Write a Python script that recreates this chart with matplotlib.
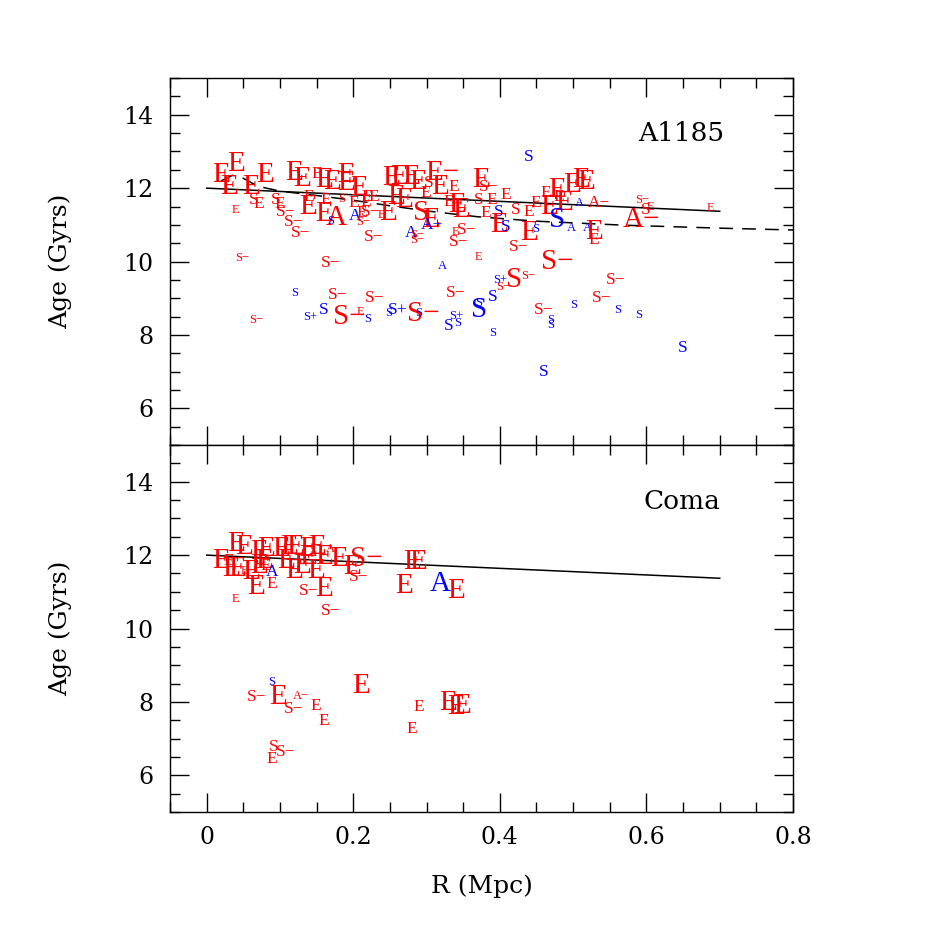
import matplotlib
matplotlib.use("Agg")
import matplotlib.pyplot as plt
from matplotlib.ticker import MultipleLocator

# A1185 panel: radius (Mpc), age (Gyrs), symbol, class (colour + weight)
a_r = [0.019, 0.040, 0.031, 0.060, 0.079, 0.064, 0.071, 0.040, 0.119, 0.130,
       0.094, 0.100, 0.108, 0.119, 0.128, 0.139, 0.150, 0.160, 0.171, 0.190,
       0.190, 0.160, 0.177, 0.169, 0.202, 0.139, 0.162, 0.184, 0.201, 0.217,
       0.251, 0.262, 0.279, 0.289, 0.303, 0.321, 0.319, 0.375, 0.385, 0.337,
       0.208, 0.218, 0.228, 0.259, 0.269, 0.299, 0.330, 0.341, 0.371, 0.389,
       0.408, 0.347, 0.212, 0.224, 0.239, 0.248, 0.292, 0.306, 0.307, 0.214,
       0.228, 0.279, 0.287, 0.287, 0.340, 0.355, 0.344, 0.381, 0.399, 0.399,
       0.408, 0.440, 0.511, 0.517, 0.498, 0.478, 0.463, 0.481, 0.487, 0.467,
       0.478, 0.508, 0.535, 0.498, 0.519, 0.528, 0.528, 0.449, 0.440, 0.422,
       0.449, 0.440, 0.426, 0.594, 0.599, 0.606, 0.593, 0.687, 0.049, 0.169,
       0.321, 0.371, 0.479, 0.120, 0.179, 0.229, 0.340, 0.400, 0.404, 0.419,
       0.438, 0.390, 0.558, 0.539, 0.141, 0.160, 0.195, 0.210, 0.220, 0.068,
       0.248, 0.261, 0.295, 0.289, 0.340, 0.330, 0.342, 0.371, 0.371, 0.460,
       0.469, 0.469, 0.501, 0.561, 0.590, 0.390, 0.460, 0.650]
a_age = [12.35, 12.65, 12.03, 12.03, 12.35, 11.67, 11.56, 11.40, 12.41, 12.24,
         11.67, 11.56, 11.35, 11.08, 10.78, 11.48, 12.38, 12.22, 12.16, 12.35,
         12.14, 11.29, 11.18, 11.10, 11.24, 11.76, 11.67, 11.70, 11.59, 11.62,
         12.27, 12.30, 12.30, 12.16, 12.14, 12.41, 12.03, 12.22, 12.03, 12.03,
         12.00, 11.76, 11.76, 11.76, 11.67, 11.86, 11.62, 11.54, 11.67, 11.67,
         11.81, 11.40, 11.32, 11.35, 11.27, 11.32, 11.32, 11.13, 10.99, 11.08,
         10.67, 10.78, 10.72, 10.59, 10.80, 10.86, 10.53, 11.32, 11.35, 10.99,
         10.94, 12.84, 12.22, 12.16, 12.08, 11.95, 11.86, 11.76, 11.59, 11.48,
         11.13, 11.59, 11.59, 10.91, 10.91, 10.80, 10.59, 11.59, 11.35, 11.40,
         10.88, 10.78, 10.40, 11.67, 11.40, 11.48, 11.13, 11.46, 10.10, 9.96,
         9.88, 10.12, 9.99, 9.14, 9.09, 9.01, 9.14, 9.50, 9.31, 9.50,
         9.61, 9.03, 9.50, 9.01, 8.49, 8.68, 8.49, 8.63, 8.44, 8.41,
         8.60, 8.68, 8.57, 8.60, 8.52, 8.25, 8.33, 8.68, 8.87, 8.68,
         8.41, 8.27, 8.82, 8.68, 8.55, 8.06, 6.99, 7.65]
a_sym = ["E", "E", "E", "E", "E", "S", "E", "E", "E", "E",
         "S", "E", "S-", "S-", "S-", "E", "E", "E", "E", "E",
         "E", "E", "A", "S", "A", "E", "E", "S", "E", "E",
         "E", "E", "E", "E", "S", "E-", "E", "E", "S-", "E",
         "E", "E", "E", "E", "E", "E", "E", "E", "S", "E",
         "E", "E", "E", "S-", "E", "E", "S", "E", "A+", "S-",
         "S-", "A", "S-", "S-", "E", "S-", "S-", "E", "S", "E",
         "S", "S", "E", "E", "E", "E", "E", "E", "E", "E",
         "S", "A", "A-", "A", "A", "E", "E", "E", "E", "S",
         "S", "E", "S-", "S-", "S", "E", "A-", "E", "S-", "S-",
         "A", "E", "S-", "S", "S-", "S-", "S-", "S+", "S-", "S",
         "S-", "S", "S-", "S-", "S+", "S", "S-", "E", "S", "S-",
         "S", "S+", "S-", "S", "S+", "S", "S", "S", "S", "S-",
         "S", "S", "S", "S", "S", "S", "S", "S"]
a_cls = ["rL", "rL", "rL", "rL", "rL", "rM", "rM", "rS", "rL", "rL",
         "rM", "rM", "rM", "rM", "rM", "rL", "rM", "rL", "rL", "rL",
         "rL", "rL", "rL", "bS", "bM", "rM", "rM", "rS", "rM", "rM",
         "rL", "rL", "rL", "rL", "rM", "rL", "rL", "rL", "rM", "rM",
         "rL", "rM", "rM", "rL", "rL", "rM", "rM", "rL", "rM", "rM",
         "rM", "rL", "rM", "rM", "rS", "rL", "rL", "rL", "bM", "rS",
         "rM", "bM", "rS", "rS", "rS", "rM", "rM", "rM", "bM", "rL",
         "bM", "bM", "rL", "rL", "rL", "rL", "rM", "rM", "rL", "rL",
         "bL", "bS", "rM", "bS", "bS", "rL", "rM", "rM", "rM", "rM",
         "bS", "rL", "rM", "rS", "rM", "rS", "rL", "rS", "rS", "rM",
         "bS", "rS", "rL", "bS", "rM", "rM", "rM", "bS", "rS", "rL",
         "rS", "bM", "rM", "rM", "bS", "bM", "rL", "rS", "bS", "rS",
         "bS", "bM", "rL", "bS", "bS", "bM", "bS", "bL", "bS", "rM",
         "bS", "bS", "bS", "bS", "bS", "bS", "bM", "bM"]

# Coma panel
c_r = [0.040, 0.051, 0.019, 0.030, 0.033, 0.041, 0.051, 0.060, 0.071, 0.081,
       0.078, 0.071, 0.081, 0.089, 0.068, 0.089, 0.040, 0.102, 0.112, 0.121,
       0.108, 0.119, 0.130, 0.139, 0.150, 0.139, 0.149, 0.169, 0.160, 0.180,
       0.198, 0.218, 0.207, 0.139, 0.160, 0.169, 0.280, 0.289, 0.269, 0.319,
       0.340, 0.089, 0.210, 0.068, 0.098, 0.128, 0.119, 0.149, 0.160, 0.289,
       0.330, 0.340, 0.348, 0.280, 0.092, 0.108, 0.089]
c_age = [12.30, 12.22, 11.84, 11.84, 11.62, 11.62, 11.56, 11.54, 12.08, 12.16,
         11.84, 11.70, 11.70, 11.54, 11.13, 11.21, 10.80, 12.16, 12.22, 12.22,
         11.84, 11.56, 11.70, 12.16, 12.22, 11.95, 11.56, 12.16, 11.95, 11.89,
         11.67, 11.89, 11.40, 11.02, 11.08, 10.48, 11.81, 11.81, 11.16, 11.21,
         11.02, 8.55, 8.44, 8.14, 8.14, 8.16, 7.81, 7.89, 7.48, 7.87,
         7.98, 7.87, 7.89, 7.27, 6.78, 6.64, 6.45]
c_sym = ["E", "E", "E", "E", "E", "E", "E", "E", "E", "E",
         "E", "E", "E", "A", "E", "E", "E", "E", "E", "E",
         "E", "E", "E", "E", "E", "E", "E", "A", "E", "E",
         "E", "S-", "S-", "S-", "E", "S-", "E", "E", "E", "A",
         "E", "S", "E", "S-", "E", "A-", "S-", "E", "E", "E",
         "E", "E", "E", "E", "S", "S-", "E"]
c_cls = ["rL", "rL", "rL", "rM", "rL", "rL", "rS", "rL", "rL", "rL",
         "rL", "rL", "rM", "bM", "rL", "rM", "rS", "rL", "rL", "rL",
         "rL", "rL", "rL", "rL", "rL", "rL", "rL", "rS", "rL", "rL",
         "rL", "rL", "rM", "rM", "rL", "rM", "rL", "rL", "rL", "bL",
         "rL", "bS", "rL", "rM", "rL", "rS", "rM", "rM", "rM", "rM",
         "rL", "rL", "rL", "rM", "rM", "rM", "rM"]

# relations drawn in the panels
fit_r = [0.0, 0.7]
fit_age = [12.0, 11.37]
model_r = [0.02, 0.035, 0.05, 0.07, 0.10, 0.15, 0.20, 0.25, 0.30, 0.37, 0.45, 0.57, 0.70, 0.80]
model_age = [12.20, 12.35, 12.27, 12.05, 11.92, 11.80, 11.67, 11.52, 11.38, 11.22, 11.10, 10.99, 10.91, 10.86]

colours = {"r": "#ff0000", "b": "#0000ff"}
fsize = {"L": 21, "M": 12.5, "S": 9}

plt.rcParams["font.family"] = ["DejaVu Serif"]

fig = plt.figure(figsize=(9.26, 9.26), dpi=100)
ax1 = fig.add_axes([0.1836, 0.5194, 0.6728, 0.3963])
ax2 = fig.add_axes([0.1836, 0.1231, 0.6728, 0.3963])


def draw(ax, r, age, sym, cls, name, name_y):
    for x, y, s, c in zip(r, age, sym, cls):
        ax.text(x, y, s.replace("-", "\u2212"), color=colours[c[0]],
                fontsize=fsize[c[1]], family="Liberation Serif",
                ha="center", va="center")
    ax.plot(fit_r, fit_age, color="black", lw=1.1)
    ax.set_xlim(-0.05, 0.8)
    ax.set_ylim(5, 15)
    ax.xaxis.set_major_locator(MultipleLocator(0.2))
    ax.xaxis.set_minor_locator(MultipleLocator(0.05))
    ax.yaxis.set_major_locator(MultipleLocator(2))
    ax.yaxis.set_minor_locator(MultipleLocator(0.5))
    ax.tick_params(which="both", direction="in", top=True, right=True, width=1)
    ax.tick_params(which="major", length=14, labelsize=17, pad=12)
    ax.tick_params(which="minor", length=7)
    ax.set_yticks([6, 8, 10, 12, 14])
    ax.set_ylabel("Age (Gyrs)", fontsize=18)
    ax.yaxis.set_label_coords(-0.157, 0.5)
    ax.text(0.648, name_y, name, fontsize=19, ha="center", va="center")
    for sp in ax.spines.values():
        sp.set_linewidth(1)


draw(ax1, a_r, a_age, a_sym, a_cls, "A1185", 13.5)
ax1.plot(model_r, model_age, color="black", lw=1.1, ls=(0, (9, 6)))
ax1.tick_params(labelbottom=False)

draw(ax2, c_r, c_age, c_sym, c_cls, "Coma", 13.47)
ax2.set_xticks([0, 0.2, 0.4, 0.6, 0.8])
ax2.set_xticklabels(["0", "0.2", "0.4", "0.6", "0.8"])
ax2.tick_params(axis="x", which="major", pad=10)
ax2.set_xlabel("R (Mpc)", fontsize=18)
ax2.xaxis.set_label_coords(0.5, -0.17)

fig.savefig("out.png", dpi=100)
